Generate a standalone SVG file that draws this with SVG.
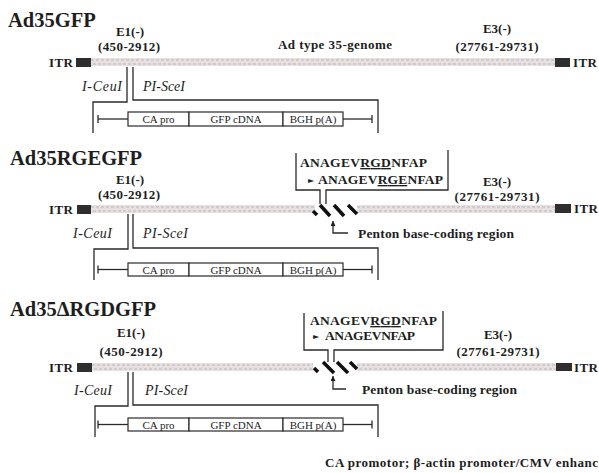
<svg xmlns="http://www.w3.org/2000/svg" width="599" height="473" viewBox="0 0 599 473">
<style>
text{font-family:"Liberation Serif","Times New Roman",serif;fill:#1e1e1e}
.title{font-size:20.5px;font-weight:bold}
.lab{font-size:13px;font-weight:bold}
.mid{text-anchor:middle}
.it{font-size:14px;font-style:italic}
.cas{font-size:11px;text-anchor:middle}
.seq{font-size:13.5px;font-weight:bold}
.ul{text-decoration:underline}
.ln{fill:none;stroke:#2a2a2a;stroke-width:1.3}
.bar{fill:#e7e0e0}
.tex{fill:none;stroke:#bfb6b6;stroke-width:1;stroke-dasharray:3 2}
.itr{fill:#2e2e2e}
.box{fill:#fff;stroke:#2a2a2a;stroke-width:1.2}
.hatch{stroke:#111;stroke-width:3.6;stroke-linecap:butt}
.tri{font-family:"DejaVu Sans",sans-serif;font-size:8px}
</style>
<defs>
<marker id="ah" viewBox="0 0 10 10" refX="10" refY="5" markerWidth="6" markerHeight="5" orient="auto" markerUnits="userSpaceOnUse">
<path d="M0,0 L10,5 L0,10 Z" fill="#1e1e1e"/>
</marker>
</defs>

<!-- Panel 1 -->
<g id="p1-title"><text class="title" x="8" y="27" font-size="21">Ad35GFP</text></g>
<g id="p1-genome">
<text class="lab mid" x="130" y="36">E1(-)</text>
<text class="lab mid" x="129" y="51" textLength="62">(450-2912)</text>
<text class="lab mid" x="335" y="49" textLength="114">Ad type 35-genome</text>
<text class="lab mid" x="497" y="33">E3(-)</text>
<text class="lab mid" x="497" y="51" textLength="83">(27761-29731)</text>
<text class="lab" x="49" y="67" textLength="24">ITR</text>
<rect class="itr" x="76" y="58" width="15" height="9"/>
<rect class="bar" x="91" y="58" width="464" height="8"/>
<line class="tex" x1="91" y1="60" x2="555" y2="60"/>
<line class="tex" x1="93" y1="64" x2="555" y2="64"/>
<rect class="itr" x="555" y="58" width="15" height="9"/>
<text class="lab" x="573" y="67" textLength="24">ITR</text>
</g>
<g id="p1-sites">
<text class="it" x="82" y="91" textLength="40">I-CeuI</text>
<text class="it" x="143" y="91" textLength="42">PI-SceI</text>
</g>
<g id="p1-cassette">
<line class="ln" x1="98" y1="119" x2="128" y2="119"/>
<line class="ln" x1="98" y1="115" x2="98" y2="123"/>
<rect class="box" x="128" y="112" width="61" height="14"/>
<rect class="box" x="189" y="112" width="94" height="14"/>
<rect class="box" x="283" y="112" width="60" height="14"/>
<text class="cas" x="158.5" y="123">CA pro</text>
<text class="cas" x="236" y="123">GFP cDNA</text>
<text class="cas" x="313" y="123">BGH p(A)</text>
<line class="ln" x1="343" y1="119" x2="372" y2="119"/>
<line class="ln" x1="372" y1="115" x2="372" y2="123"/>
</g>

<!-- Panel 2 -->
<g id="p2-title"><text class="title" x="10" y="165">Ad35RGEGFP</text></g>
<g id="p2-genome">
<text class="lab mid" x="130" y="184">E1(-)</text>
<text class="lab mid" x="129" y="199" textLength="62">(450-2912)</text>
<text class="lab mid" x="497" y="186">E3(-)</text>
<text class="lab mid" x="497" y="201" textLength="85">(27761-29731)</text>
<text class="lab" x="49" y="214" textLength="24">ITR</text>
<rect class="itr" x="77" y="205" width="14" height="9"/>
<rect class="bar" x="91" y="205" width="224" height="8"/>
<line class="tex" x1="91" y1="207" x2="315" y2="207"/>
<line class="tex" x1="93" y1="211" x2="315" y2="211"/>
<rect class="bar" x="357" y="205" width="198" height="8"/>
<line class="tex" x1="357" y1="207" x2="555" y2="207"/>
<line class="tex" x1="359" y1="211" x2="555" y2="211"/>
<rect class="itr" x="555" y="204" width="16" height="9"/>
<text class="lab" x="574" y="213" textLength="24">ITR</text>
<line class="hatch" x1="313" y1="211" x2="317" y2="215"/>
<line class="hatch" x1="320" y1="205" x2="330" y2="216"/>
<line class="hatch" x1="334" y1="205" x2="344" y2="216"/>
<line class="hatch" x1="348" y1="205" x2="357" y2="214"/>
</g>
<g id="p2-penton-box">
<text class="seq" x="300" y="167" textLength="127">ANAGEV<tspan class="ul">RGD</tspan>NFAP</text>
<text class="tri" x="308" y="183">►</text>
<text class="seq" x="318" y="184" textLength="125">ANAGEV<tspan class="ul">RGE</tspan>NFAP</text>
</g>
<g id="p2-penton-label">
<text class="seq" x="358" y="238" textLength="156">Penton base-coding region</text>
</g>
<g id="p2-sites">
<text class="it" x="73" y="238" textLength="39">I-CeuI</text>
<text class="it" x="143" y="238" textLength="45">PI-SceI</text>
</g>
<g id="p2-cassette">
<line class="ln" x1="98" y1="269.5" x2="128" y2="269.5"/>
<line class="ln" x1="98" y1="265.5" x2="98" y2="273.5"/>
<rect class="box" x="128" y="263" width="61" height="13"/>
<rect class="box" x="189" y="263" width="94" height="13"/>
<rect class="box" x="283" y="263" width="60" height="13"/>
<text class="cas" x="158.5" y="273.5">CA pro</text>
<text class="cas" x="236" y="273.5">GFP cDNA</text>
<text class="cas" x="313" y="273.5">BGH p(A)</text>
<line class="ln" x1="343" y1="269.5" x2="372" y2="269.5"/>
<line class="ln" x1="372" y1="265.5" x2="372" y2="273.5"/>
</g>

<!-- Panel 3 -->
<g id="p3-title"><text class="title" x="10" y="316">Ad35ΔRGDGFP</text></g>
<g id="p3-genome">
<text class="lab mid" x="131" y="337">E1(-)</text>
<text class="lab mid" x="131" y="356" textLength="63">(450-2912)</text>
<text class="lab mid" x="498" y="339">E3(-)</text>
<text class="lab mid" x="498" y="356" textLength="83">(27761-29731)</text>
<text class="lab" x="49" y="372" textLength="24">ITR</text>
<rect class="itr" x="77" y="363" width="15" height="9"/>
<rect class="bar" x="92" y="363" width="221" height="8"/>
<line class="tex" x1="92" y1="365" x2="313" y2="365"/>
<line class="tex" x1="94" y1="369" x2="313" y2="369"/>
<rect class="bar" x="357" y="363" width="199" height="8"/>
<line class="tex" x1="357" y1="365" x2="556" y2="365"/>
<line class="tex" x1="359" y1="369" x2="556" y2="369"/>
<rect class="itr" x="556" y="363" width="16" height="8"/>
<text class="lab" x="574" y="372" textLength="24">ITR</text>
<line class="hatch" x1="314" y1="368" x2="318" y2="372"/>
<line class="hatch" x1="323" y1="362" x2="334" y2="373"/>
<line class="hatch" x1="337" y1="362" x2="348" y2="373"/>
<line class="hatch" x1="350" y1="362" x2="357" y2="369"/>
</g>
<g id="p3-penton-box">
<text class="seq" x="310" y="325" textLength="127">ANAGEV<tspan class="ul">RGD</tspan>NFAP</text>
<text class="tri" x="313" y="339">►</text>
<text class="seq" x="325" y="340" textLength="90">ANAGEVNFAP</text>
</g>
<g id="p3-penton-label">
<text class="seq" x="362" y="394" textLength="155">Penton base-coding region</text>
</g>
<g id="p3-sites">
<text class="it" x="74" y="395" textLength="38">I-CeuI</text>
<text class="it" x="145" y="395" textLength="43">PI-SceI</text>
</g>
<g id="p3-cassette">
<line class="ln" x1="98" y1="424.5" x2="128" y2="424.5"/>
<line class="ln" x1="98" y1="420.5" x2="98" y2="428.5"/>
<rect class="box" x="128" y="418" width="61" height="13"/>
<rect class="box" x="189" y="418" width="94" height="13"/>
<rect class="box" x="283" y="418" width="60" height="13"/>
<text class="cas" x="158.5" y="428.5">CA pro</text>
<text class="cas" x="236" y="428.5">GFP cDNA</text>
<text class="cas" x="313" y="428.5">BGH p(A)</text>
<line class="ln" x1="343" y1="424.5" x2="372" y2="424.5"/>
<line class="ln" x1="372" y1="420.5" x2="372" y2="428.5"/>
</g>

<g id="footnote">
<text class="lab" x="325" y="467" font-size="12" textLength="273">CA promotor; β-actin promoter/CMV enhanc</text>
</g>

<g id="connectors">
<!-- panel 1 -->
<path class="ln" d="M127,67 V102 H93 V133"/>
<path class="ln" d="M133,67 V100 H378 V133"/>
<!-- panel 2 -->
<path class="ln" d="M128,214 V249 H94 V280"/>
<path class="ln" d="M133,214 V248 H378 V280"/>
<path class="ln" d="M296,153 V190 H320 V204"/>
<path class="ln" d="M326,204 V190 H448 V150"/>
<path class="ln" d="M348,233 H333 V221" marker-end="url(#ah)"/>
<!-- panel 3 -->
<path class="ln" d="M128,372 V406 H95 V437"/>
<path class="ln" d="M133,372 V405 H378 V437"/>
<path class="ln" d="M304,313 V350 H328 V362"/>
<path class="ln" d="M334,362 V350 H443 V311"/>
<path class="ln" d="M346,389 H333 V376" marker-end="url(#ah)"/>
</g>
</svg>
